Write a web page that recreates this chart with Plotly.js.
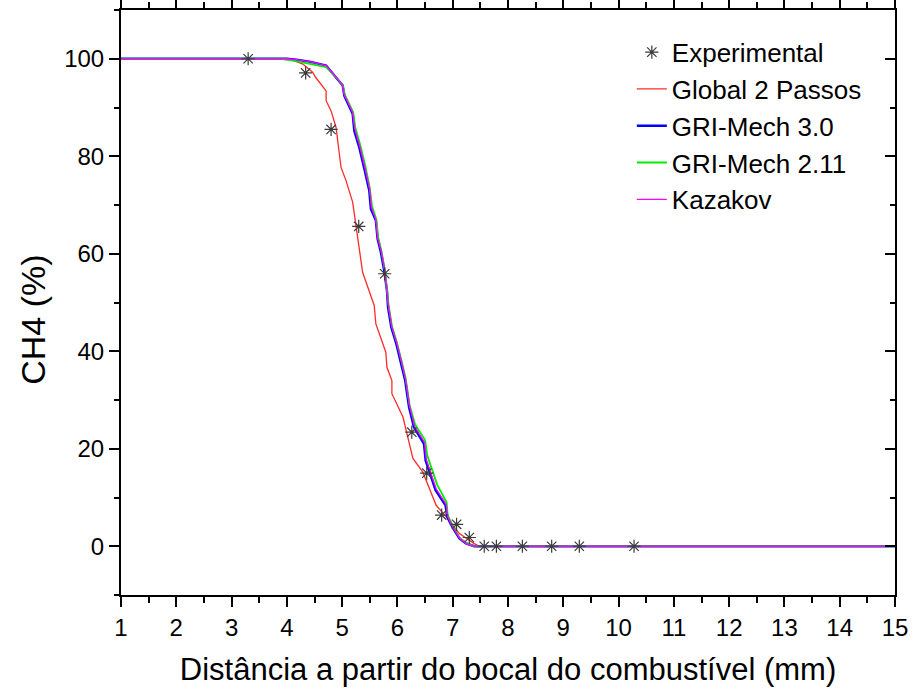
<!DOCTYPE html>
<html>
<head>
<meta charset="utf-8">
<script src="https://cdn.plot.ly/plotly-3.0.1.min.js"></script>
<style>html,body{margin:0;padding:0;background:#fff;}#chart{width:913px;height:695px;}</style>
</head>
<body>
<div id="chart"></div>
<script>
// Experimental data
const expX = [3.3, 4.34, 4.8, 5.3, 5.77, 6.26, 6.53, 6.8, 7.07, 7.3, 7.57, 7.79, 8.26, 8.79, 9.29, 10.28];
const expY = [100, 97.1, 85.5, 65.6, 55.9, 23.4, 15.0, 6.4, 4.5, 1.8, 0, 0, 0, 0, 0, 0];

// Global 2 Passos
const g2X = [1, 3.8, 4.1, 4.29, 4.47, 4.52, 4.71, 4.71, 4.80, 4.89, 4.98, 5.07, 5.19, 5.25, 5.37, 5.58, 5.61, 5.79, 5.81, 5.90, 5.90, 6.10, 6.28, 6.46, 6.70, 6.94, 7.12, 7.39, 7.48, 15];
const g2Y = [100, 100, 99.7, 98.9, 97.2, 96.2, 93.4, 91.4, 89.3, 85.9, 77.7, 75.0, 70.6, 65.8, 56.2, 49.4, 45.6, 39.8, 36.7, 34.0, 31.3, 26.5, 18.0, 15.2, 8.4, 5.3, 2.6, 0.55, 0, 0];

// GRI-Mech 3.0
const gri30X = [1, 4.0, 4.17, 4.41, 4.71, 4.89, 5.01, 5.04, 5.19, 5.22, 5.31, 5.40, 5.49, 5.52, 5.61, 5.64, 5.70, 5.76, 5.81, 5.83, 5.89, 5.98, 6.07, 6.14, 6.21, 6.30, 6.48, 6.51, 6.69, 6.87, 6.90, 6.99, 7.12, 7.24, 7.39, 15];
const gri30Y = [100, 100, 99.8, 99.4, 98.6, 96.2, 94.5, 92.4, 88.7, 85.2, 81.8, 77.5, 73.0, 69.2, 66.8, 63.1, 60.3, 56.6, 52.5, 49.0, 44.9, 41.5, 37.4, 34.0, 28.5, 24.4, 21.0, 17.6, 11.5, 8.4, 6.0, 4.0, 1.6, 0.6, 0, 0];

// GRI-Mech 2.11
const gri211X = [1, 3.9, 4.17, 4.41, 4.71, 4.89, 5.01, 5.05, 5.20, 5.24, 5.33, 5.42, 5.50, 5.54, 5.62, 5.65, 5.71, 5.77, 5.81, 5.84, 5.90, 5.99, 6.08, 6.15, 6.22, 6.32, 6.50, 6.54, 6.72, 6.89, 6.91, 7.00, 7.12, 7.24, 7.39, 15];
const gri211Y = [100, 100, 99.5, 99.0, 98.3, 96.2, 94.6, 92.6, 89.0, 85.8, 82.2, 78.0, 73.5, 69.8, 67.0, 63.5, 60.6, 56.8, 53.0, 49.5, 45.2, 41.8, 37.8, 34.4, 29.0, 25.0, 21.8, 18.6, 12.6, 9.0, 6.4, 4.2, 1.8, 0.7, 0, 0];

// Kazakov
const kazX = [1, 4.0, 4.17, 4.41, 4.71, 4.89, 5.01, 5.04, 5.19, 5.23, 5.32, 5.41, 5.50, 5.53, 5.61, 5.64, 5.71, 5.77, 5.81, 5.84, 5.90, 5.99, 6.08, 6.15, 6.22, 6.31, 6.49, 6.52, 6.70, 6.88, 6.91, 7.00, 7.13, 7.25, 7.40, 15];
const kazY = [100, 100, 99.8, 99.4, 98.6, 96.3, 94.6, 92.6, 89.0, 85.5, 82.0, 77.8, 73.2, 69.5, 67.0, 63.3, 60.5, 56.8, 52.8, 49.2, 45.0, 41.7, 37.6, 34.2, 28.8, 24.6, 21.3, 17.9, 11.8, 8.6, 6.1, 4.0, 1.6, 0.5, 0, 0];

const xTitle = "Distância a partir do bocal do combustível (mm)";
const yTitle = "CH4 (%)";

const FONT = "Liberation Sans, Arial, sans-serif";

const traces = [
  {x: expX, y: expY, name: "Experimental", mode: "markers", type: "scatter", yaxis: "y2",
   marker: {symbol: "asterisk-open", size: 11, color: "#3a3a3a", line: {color: "#3a3a3a", width: 1.2}}},
  {x: g2X, y: g2Y, name: "Global 2 Passos", mode: "lines", type: "scatter",
   line: {color: "#ff2a2a", width: 1.3}},
  {x: gri30X, y: gri30Y, name: "GRI-Mech 3.0", mode: "lines", type: "scatter",
   line: {color: "#0000ff", width: 2.4}},
  {x: gri211X, y: gri211Y, name: "GRI-Mech 2.11", mode: "lines", type: "scatter",
   line: {color: "#00ee00", width: 1.8}},
  {x: kazX, y: kazY, name: "Kazakov", mode: "lines", type: "scatter",
   line: {color: "#ff00ff", width: 1.3}}
];

const layout = {
  width: 913, height: 695,
  margin: {l: 121, r: 18, t: 10, b: 100},
  paper_bgcolor: "#fff", plot_bgcolor: "#fff",
  font: {family: FONT, color: "#000"},
  showlegend: true,
  legend: {x: 0.66, y: 0.968, xanchor: "left", yanchor: "top", bgcolor: "rgba(0,0,0,0)",
           font: {family: FONT, size: 26, color: "#000"}, tracegroupgap: 0},
  xaxis: {
    range: [1, 15], dtick: 1, tick0: 1,
    showgrid: false, zeroline: false,
    showline: true, linecolor: "#000", linewidth: 2, mirror: "ticks",
    ticks: "outside", ticklen: 10, tickwidth: 2, tickcolor: "#000",
    minor: {dtick: 0.5, tick0: 1, ticks: "outside", ticklen: 6, tickwidth: 2, tickcolor: "#000", showgrid: false},
    tickfont: {family: FONT, size: 24, color: "#000"},
    title: {text: xTitle, font: {family: FONT, size: 31, color: "#000"}, standoff: 19}
  },
  yaxis: {
    range: [-10, 110], dtick: 20, tick0: 0,
    showgrid: false, zeroline: false,
    showline: true, linecolor: "#000", linewidth: 2, mirror: true,
    ticks: "outside", ticklen: 10, tickwidth: 2, tickcolor: "#000",
    minor: {dtick: 10, tick0: 0, ticks: "outside", ticklen: 5, tickwidth: 2, tickcolor: "#000", showgrid: false},
    tickfont: {family: FONT, size: 24, color: "#000"}
  },
  yaxis2: {
    range: [-10, 110], dtick: 20, tick0: 0, overlaying: "y", side: "right",
    showgrid: false, zeroline: false, showline: false, showticklabels: false,
    ticks: "inside", ticklen: 10, tickwidth: 2, tickcolor: "#000",
    minor: {dtick: 10, tick0: 0, ticks: "inside", ticklen: 5, tickwidth: 2, tickcolor: "#000", showgrid: false}
  },
  annotations: [
    {text: yTitle, xref: "paper", yref: "paper", x: -0.114, y: 0.47, xanchor: "center", yanchor: "middle",
     textangle: -90, showarrow: false, font: {family: FONT, size: 34, color: "#000"}}
  ]
};

Plotly.newPlot("chart", traces, layout, {displayModeBar: false, staticPlot: true});
</script>
</body>
</html>
